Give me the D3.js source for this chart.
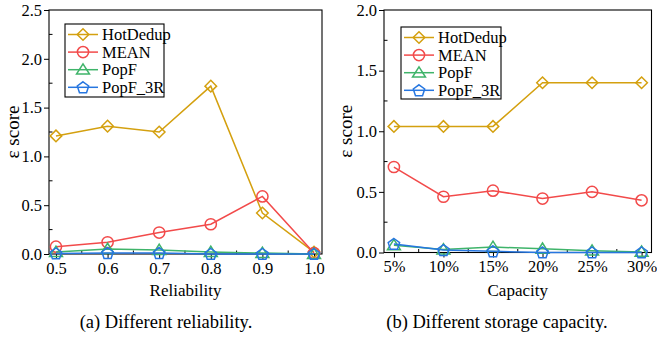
<!DOCTYPE html>
<html><head><meta charset="utf-8">
<script src="https://cdn.jsdelivr.net/npm/d3@7"></script>
</head><body style="margin:0"><svg id="c" width="657" height="340" font-family="Liberation Serif"></svg>
<script>
const seriesNames = ["HotDedup","MEAN","PopF","PopF_3R"];
const colors = ["#d4a00f","#f24a4a","#3fb46a","#2676e0"];
const reliability = [0.5,0.6,0.7,0.8,0.9,1.0];
const relHotDedup = [1.21,1.31,1.25,1.72,0.42,0.02];
const relMEAN = [0.075,0.12,0.22,0.305,0.59,0.01];
const relPopF = [0.02,0.05,0.04,0.02,0.01,0.0];
const relPopF3R = [0.005,0.01,0.01,0.0,0.0,0.0];
const capacity = ["5%","10%","15%","20%","25%","30%"];
const capHotDedup = [1.04,1.04,1.04,1.40,1.40,1.40];
const capMEAN = [0.705,0.46,0.51,0.445,0.50,0.43];
const capPopF = [0.06,0.025,0.045,0.03,0.015,0.005];
const capPopF3R = [0.07,0.02,0.01,0.0,0.0,0.0];
const relYTicks = [0,0.5,1.0,1.5,2.0,2.5];
const capYTicks = [0,0.5,1.0,1.5,2.0];

const svg = d3.select("#c");

function markerPath(i, s){
  if(i===0){ return `M0,${-s}L${s},0L0,${s}L${-s},0Z`; }
  if(i===1){ return d3.symbol(d3.symbolCircle, Math.PI*s*s)(); }
  if(i===2){ const h=s*1.05; return `M0,${-h}L${h*1.1},${h*0.75}L${-h*1.1},${h*0.75}Z`; }
  const pts=[]; for(let k=0;k<5;k++){const a=-Math.PI/2+k*2*Math.PI/5; pts.push([s*Math.cos(a), s*Math.sin(a)+0.5]);}
  return "M"+pts.map(p=>p.join(",")).join("L")+"Z";
}
const msize=[5.8,5.6,5.6,6];

function txt(sel, size){ return sel.attr("font-family","Liberation Serif").attr("font-size",size).attr("fill","#000"); }

function panel(o){
  const g = svg.append("g");
  const x = o.x, y = o.y;
  const [x0,x1]=x.range(), [y0,y1]=y.range();
  const yMinor = d3.range(0, o.ymax+0.001, 0.25).filter(v=>Math.abs(v*2-Math.round(v*2))>0.01);
  g.selectAll(".ym").data(yMinor).join("line").attr("x1",x0).attr("x2",x0+3.5)
    .attr("y1",d=>y(d)).attr("y2",d=>y(d)).attr("stroke","#000").attr("stroke-width",1);
  g.selectAll(".xm").data(o.xMinor).join("line").attr("x1",d=>x(d)).attr("x2",d=>x(d))
    .attr("y1",y0).attr("y2",y0-3.5).attr("stroke","#000").attr("stroke-width",1);
  const ya = g.append("g").attr("transform",`translate(${x0},0)`)
    .call(d3.axisLeft(y).tickValues(o.yTicks).tickFormat(d3.format(".1f")).tickSize(5).tickPadding(2));
  const xa = g.append("g").attr("transform",`translate(0,${y0})`)
    .call(d3.axisBottom(x).tickValues(o.xTicks).tickFormat(o.xFmt).tickSize(5).tickPadding(3));
  [ya,xa].forEach(a=>{a.select(".domain").remove();
    a.attr("font-family","Liberation Serif").attr("font-size",16.5);
    txt(a.selectAll("text"),16.5);
    a.selectAll("line").attr("stroke","#000");});
  g.append("rect").attr("x",x0).attr("y",y1).attr("width",x1-x0).attr("height",y0-y1)
    .attr("fill","none").attr("stroke","#000").attr("stroke-width",1.1);
  o.series.forEach((vals,i)=>{
    const pts = o.xs.map((d,j)=>[x(d), y(vals[j])]);
    g.append("path").attr("d",d3.line()(pts)).attr("fill","none").attr("stroke",colors[i]).attr("stroke-width",1.5);
    g.selectAll(null).data(pts).join("path").attr("d",markerPath(i,msize[i]))
      .attr("transform",p=>`translate(${p[0]},${p[1]})`).attr("fill","none").attr("stroke",colors[i]).attr("stroke-width",1.5);
  });
  const L = o.legend;
  g.append("rect").attr("x",L.x).attr("y",L.y).attr("width",L.w).attr("height",L.h)
    .attr("fill","#fff").attr("stroke","#000").attr("stroke-width",1.1);
  seriesNames.forEach((n,i)=>{
    const cy = L.y+10.5+i*17.6;
    g.append("line").attr("x1",L.x+3).attr("x2",L.x+33).attr("y1",cy).attr("y2",cy).attr("stroke",colors[i]).attr("stroke-width",1.5);
    g.append("path").attr("d",markerPath(i,msize[i])).attr("transform",`translate(${L.x+18},${cy})`)
      .attr("fill","none").attr("stroke",colors[i]).attr("stroke-width",1.5);
    txt(g.append("text").attr("x",L.x+37).attr("y",cy+5.5),16.5).text(n);
  });
  txt(g.append("text").attr("x",(x0+x1)/2).attr("y",296).attr("text-anchor","middle"),17).text(o.xTitle);
  txt(g.append("text").attr("transform",`translate(${o.yTitleX},${(y0+y1)/2}) rotate(-90)`).attr("text-anchor","middle"),19).text("ε score");
  txt(g.append("text").attr("x",o.capX).attr("y",328).attr("text-anchor","middle"),18.5).text(o.caption);
}

panel({
  x: d3.scaleLinear().domain([0.4865,1.0155]).range([49,322]),
  y: d3.scaleLinear().domain([0,2.5]).range([254,10]),
  ymax: 2.5, yTicks: relYTicks, xTicks: reliability, xs: reliability,
  xMinor: [0.55,0.65,0.75,0.85,0.95], xFmt: d3.format(".1f"),
  series:[relHotDedup,relMEAN,relPopF,relPopF3R],
  legend:{x:65,y:24,w:99,h:73},
  xTitle:"Reliability", yTitleX:19, capX:166, caption:"(a)  Different reliability."
});
panel({
  x: d3.scaleLinear().domain([-0.2,5.2]).range([384,651.5]),
  y: d3.scaleLinear().domain([0,2.0]).range([252.5,10]),
  ymax: 2.0, yTicks: capYTicks, xTicks: d3.range(capacity.length), xs: d3.range(capacity.length),
  xMinor: [0.5,1.5,2.5,3.5,4.5], xFmt: i=>capacity[i],
  series:[capHotDedup,capMEAN,capPopF,capPopF3R],
  legend:{x:401,y:27,w:100,h:72},
  xTitle:"Capacity", yTitleX:352, capX:497, caption:"(b)  Different storage capacity."
});
</script></body></html>
